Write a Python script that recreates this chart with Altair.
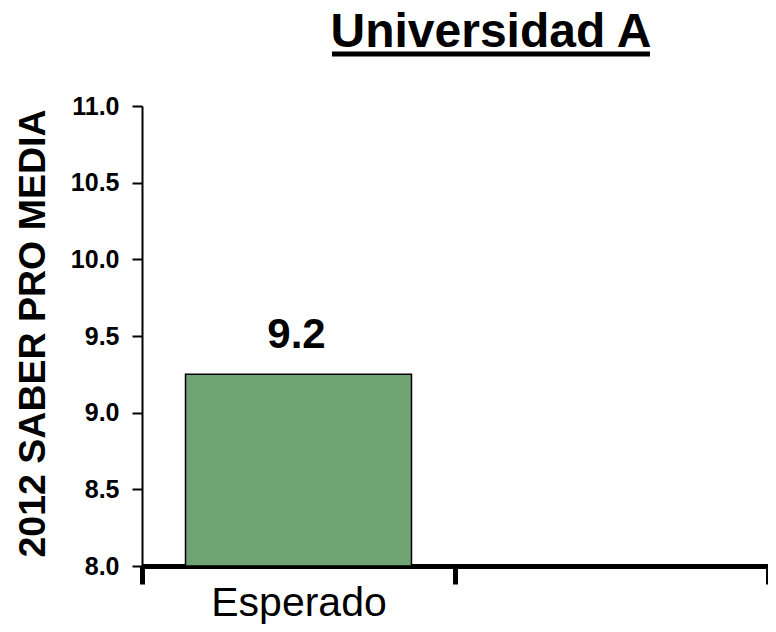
import altair as alt
import pandas as pd

categories = ["Esperado", " "]
values = [9.25]
labels = ["9.2"]
chart_title = "Universidad A"
y_title = "2012 SABER PRO MEDIA"
y_min, y_max = 8.0, 11.0

df = pd.DataFrame({"cat": categories[:1], "val": values, "lab": labels})

FONT = "Liberation Sans"

x_enc = alt.X("cat:N", scale=alt.Scale(domain=categories, paddingInner=0, paddingOuter=0),
              axis=alt.Axis(title=None, tickBand="extent", domainWidth=5, domainColor="black",
                            tickWidth=5, tickColor="black", tickSize=18, labelFontSize=41,
                            labelFont=FONT, labelColor="black", labelAngle=0,
                            labelBaseline="alphabetic", labelPadding=31))
y_enc = alt.Y("val:Q", scale=alt.Scale(domain=[y_min, y_max], zero=False, nice=False),
              axis=alt.Axis(title=y_title, values=[8.0, 8.5, 9.0, 9.5, 10.0, 10.5, 11.0],
                            format=".1f", grid=False, domainWidth=2, domainColor="black",
                            tickWidth=2, tickColor="black", tickSize=10,
                            labelFontSize=25, labelFontWeight="bold", labelFont=FONT,
                            labelColor="black", labelPadding=13,
                            titleFontSize=37.5, titleFontWeight="bold", titleFont=FONT,
                            titleColor="black", titleAngle=-90, titleX=-109, titleY=227,
                            titleAlign="center", titleBaseline="middle"))

bars = alt.Chart(df).mark_bar(width=alt.RelativeBandSize(0.722), color="#70a373",
                              stroke="black", strokeWidth=1.5).encode(
    x=x_enc, y=y_enc, y2=alt.datum(y_min))

text = alt.Chart(df).mark_text(font=FONT, fontSize=42, fontWeight="bold", color="black",
                               baseline="alphabetic", dy=-26, dx=-2).encode(
    x=alt.X("cat:N"), y=alt.Y("val:Q"), text="lab:N")

title = alt.Chart(df).mark_text(text=chart_title, font=FONT, fontSize=48, fontWeight="bold",
                                color="black", baseline="alphabetic", align="center").encode(
    x=alt.value(349), y=alt.value(-59))

underline = alt.Chart(df).mark_rule(color="black", strokeWidth=5).encode(
    x=alt.value(190), x2=alt.value(508), y=alt.value(-52))

chart = alt.layer(bars, text, title, underline).properties(
    width=626, height=460,
    autosize=alt.AutoSizeParams(type="none"),
    padding={"left": 134, "top": 98, "right": 0, "bottom": 58},
).configure_view(stroke=None)

chart.save("out.html", embed_options={"renderer": "svg", "actions": False})
